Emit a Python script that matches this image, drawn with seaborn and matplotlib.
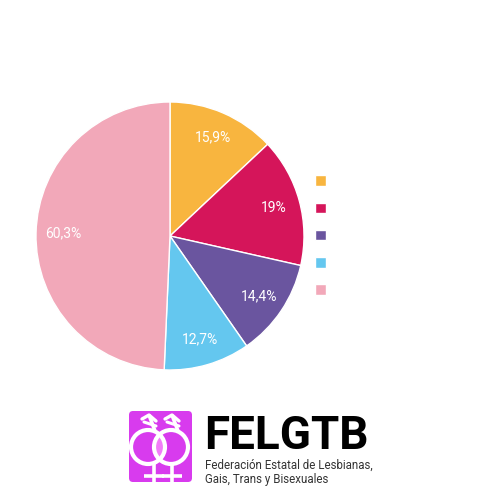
import matplotlib
matplotlib.use('Agg')
import matplotlib.pyplot as plt
import matplotlib.patches as mpatches
import seaborn as sns

# datos del gráfico
valores = [15.9, 19, 14.4, 12.7, 60.3]
etiquetas = ['15,9%', '19%', '14,4%', '12,7%', '60,3%']
leyenda = ['', '', '', '', '']
colores = ['#F8B53F', '#D5155A', '#6A559F', '#64C7EF', '#F2A8B9']

sns.set_style('white')
plt.rcParams['font.family'] = ['Roboto', 'DejaVu Sans']

fig = plt.figure(figsize=(5, 5), dpi=100)

# capa de fondo en pixeles para el logo
ax_logo = fig.add_axes([0, 0, 1, 1])
ax_logo.set_xlim(0, 500)
ax_logo.set_ylim(500, 0)
ax_logo.axis('off')

magenta = '#D83BEE'
caja = mpatches.FancyBboxPatch((129, 411), 63, 71, boxstyle='round,pad=0,rounding_size=4',
                               fc=magenta, ec='none')
ax_logo.add_patch(caja)
circ_izq = mpatches.Circle((148, 447), 17, fc='none', ec='none')
ax_logo.add_patch(circ_izq)
lente = mpatches.Circle((171, 447), 17, fc='#F27DF8', ec='none')
ax_logo.add_patch(lente)
lente.set_clip_path(circ_izq)
for cx in (148, 171):
    ax_logo.add_patch(mpatches.Circle((cx, 447), 17, fc='none', ec='white', lw=3))
# flechas superiores
for x0 in (155, 178):
    ax_logo.plot([x0, x0 - 6], [431, 415], color='white', lw=2.6, solid_capstyle='butt')
    ax_logo.plot([x0 - 13, x0 - 6, x0 + 1], [419, 415, 421], color='white', lw=2.4)
    ax_logo.plot([x0 - 11, x0 + 1], [422, 426], color='white', lw=2.2)
# cruces inferiores
for x0 in (154, 172):
    ax_logo.plot([x0, x0], [464, 482], color='white', lw=2.6, solid_capstyle='butt')
    ax_logo.plot([x0 - 10, x0 + 10], [476, 476], color='white', lw=2.6, solid_capstyle='butt')

ax_logo.text(204, 449, 'FELGTB', fontsize=33, fontweight='bold', color='black',
             ha='left', va='baseline')
ax_logo.text(205, 469, 'Federación Estatal de Lesbianas,', fontsize=8.3, color='#333333',
             ha='left', va='baseline')
ax_logo.text(205, 483, 'Gais, Trans y Bisexuales', fontsize=8.3, color='#333333',
             ha='left', va='baseline')

# gráfico de tarta
ax = fig.add_axes([0.072, 0.26, 0.536, 0.536])
textos = iter(etiquetas)
wedges, _, _ = ax.pie(valores, colors=colores, startangle=90, counterclock=False,
                      autopct=lambda p: next(textos), pctdistance=0.8,
                      textprops=dict(color='white', fontsize=10))
ax.set_xlim(-1, 1)
ax.set_ylim(-1, 1)
ax.set_aspect('equal')

ax.legend(wedges, leyenda, loc='center left', bbox_to_anchor=(0.616, 0.528),
          bbox_transform=fig.transFigure, frameon=False, handlelength=0.8,
          handleheight=0.8, labelspacing=0.95, borderpad=0, handletextpad=0, fontsize=10)

plt.savefig('out.png')
